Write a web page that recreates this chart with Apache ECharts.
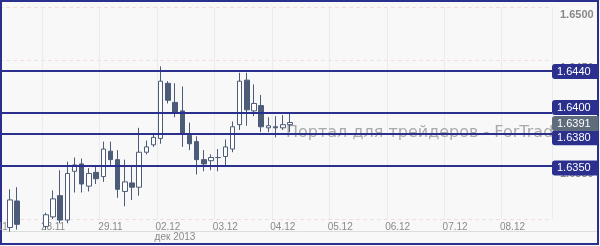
<!DOCTYPE html>
<html><head><meta charset="utf-8">
<script src="https://cdn.jsdelivr.net/npm/echarts@6/dist/echarts.min.js"></script>
<style>html,body{margin:0;padding:0;background:#f8f8f8}#c{width:600px;height:246px}</style>
</head><body><div id="c"></div>
<script>
// ---- data ----
const dayLabels = ['27.11','28.11','29.11','02.12','03.12','04.12','05.12','06.12','07.12','08.12'];
const slotHours = ['00:00','03:00','06:00','09:00','12:00','15:00','18:00','21:00'];
const opens  = [1.6296,1.6296,1.6292,1.6317,1.6295,1.6291,1.6289,1.6293,1.6302,1.6322,1.6299,1.6345,1.6352,1.6331,1.6344,1.6340,1.6364,1.6356,1.6326,1.6334,1.6330,1.6363,1.6370,1.6376,1.6428,1.6410,1.6402,1.6379,1.6373,1.6356,1.6355,1.6358,1.6359,1.6366,1.6389,1.6431,1.6402,1.6407,1.6386,1.6387,1.6386,1.6389];
const closes = [1.6296,1.6292,1.6318,1.6295,1.6291,1.6289,1.6293,1.6304,1.6319,1.6299,1.6343,1.6351,1.6333,1.6343,1.6338,1.6366,1.6356,1.6328,1.6335,1.6330,1.6363,1.6368,1.6377,1.6430,1.6412,1.6401,1.6380,1.6371,1.6356,1.6352,1.6358,1.6358,1.6368,1.6387,1.6430,1.6403,1.6409,1.6387,1.6388,1.6386,1.6389,1.6391];
const lows   = [1.6290,1.6288,1.6288,1.6290,1.6286,1.6284,1.6285,1.6290,1.6300,1.6296,1.6296,1.6325,1.6325,1.6326,1.6333,1.6335,1.6351,1.6320,1.6312,1.6318,1.6322,1.6361,1.6368,1.6371,1.6409,1.6396,1.6368,1.6365,1.6342,1.6345,1.6346,1.6345,1.6349,1.6363,1.6384,1.6388,1.6397,1.6382,1.6382,1.6377,1.6384,1.6382];
const highs  = [1.6299,1.6299,1.6328,1.6330,1.6299,1.6297,1.6298,1.6306,1.6327,1.6346,1.6354,1.6358,1.6357,1.6348,1.6349,1.6373,1.6373,1.6365,1.6356,1.6351,1.6386,1.6374,1.6381,1.6444,1.6430,1.6428,1.6425,1.6391,1.6378,1.6365,1.6361,1.6366,1.6375,1.6392,1.6438,1.6438,1.6427,1.6417,1.6396,1.6397,1.6398,1.6401];
const levels = [1.6440, 1.6400, 1.6380, 1.6350];
const lastPrice = 1.6391;
const monthLabel = 'дек 2013';
const watermark = 'Портал для трейдеров - ForTrader.ru';

// ---- build ----
const categories = [];
dayLabels.forEach(d => slotHours.forEach(h => categories.push(d + ' ' + h)));
const cats = categories.slice(0, 78);
const candles = opens.map((o, i) => [o, closes[i], lows[i], highs[i]]);

const NAVY = '#2b2f8e';
const levelShift = [1, -5.5, 3.5, 2];
const FONT = 'Liberation Sans';

const chart = echarts.init(document.getElementById('c'), null, {renderer: 'canvas'});
chart.setOption({
  animation: false,
  backgroundColor: '#f8f8f8',
  grid: {left: -8, right: 48, top: 7, bottom: 27, containLabel: false, outerBoundsMode: 'none'},
  xAxis: {
    type: 'category', data: cats, boundaryGap: true,
    axisLine: {show: false}, axisTick: {show: false},
    axisLabel: {interval: 7, formatter: v => v.slice(0, 5), color: '#8a8a8a', fontSize: 10, fontFamily: FONT, margin: 3},
    splitLine: {show: true, interval: (i) => i % 8 === 7, lineStyle: {color: '#ebebeb', width: 1}}
  },
  yAxis: {
    type: 'value', position: 'right', min: 1.63, max: 1.65, interval: 0.005, scale: true,
    axisLine: {show: false}, axisTick: {show: false},
    axisLabel: {showMinLabel: false, margin: 8, color: '#888', fontSize: 11, fontWeight: 'bold', fontFamily: FONT,
      verticalAlign: 'top', align: 'left', padding: [2, 0, 0, 0], formatter: v => v.toFixed(4)},
    splitLine: {show: true, lineStyle: {color: '#f0dede', type: [4, 3], width: 1}}
  },
  series: [{
    type: 'candlestick',
    data: candles,
    barWidth: 5,
    clip: true,
    itemStyle: {color: '#ffffff', color0: '#4b5b78', borderColor: '#4b5b78', borderColor0: '#4b5b78', borderWidth: 1},
    markLine: {
      silent: true, symbol: ['none', 'none'], precision: 4, animation: false,
      lineStyle: {color: NAVY, width: 2, type: 'solid'},
      label: {show: true, position: 'end', distance: 0, formatter: p => Number(p.value).toFixed(4),
        color: '#fff', fontSize: 11, fontFamily: FONT, lineHeight: 12, backgroundColor: NAVY,
        padding: [2, 8, 1, 5], borderRadius: [3, 0, 0, 3]},
      data: levels.map((v, i) => ({yAxis: v, label: {offset: [0, levelShift[i]]}})).concat([
        {yAxis: lastPrice, lineStyle: {color: 'rgba(0,0,0,0)', width: 0},
         label: {backgroundColor: '#5e6c7c', offset: [0, 1]}}
      ])
    }
  }],
  graphic: {
    zlevel: 1, z: 100,
    elements: [
      {type: 'line', z2: 1, shape: {x1: 2, y1: 231.5, x2: 597, y2: 231.5}, style: {stroke: '#dddddd', lineWidth: 1}},
      {type: 'text', z2: 2, x: 175, y: 237.5, style: {text: monthLabel, align: 'center', verticalAlign: 'middle', fill: '#8a8a8a', font: '10px "Liberation Sans"'}},
      {type: 'text', z2: 3, x: 286, y: 132.5, style: {text: watermark, align: 'left', verticalAlign: 'middle', fill: 'rgba(150,150,150,0.8)', font: '16px "DejaVu Sans"'}},
      {type: 'rect', z2: 4, shape: {x: 1, y: 1, width: 597, height: 243}, style: {fill: 'none', stroke: NAVY, lineWidth: 2}}
    ]
  }
});
</script>
</body></html>
